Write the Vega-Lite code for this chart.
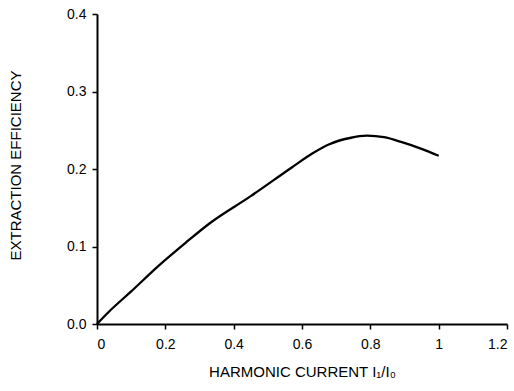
{
  "$schema": "https://vega.github.io/schema/vega-lite/v6.json",
  "width": 410,
  "height": 310,
  "autosize": {"type": "none"},
  "padding": {"left": 97, "top": 14, "right": 7, "bottom": 67},
  "background": "white",
  "config": {
    "view": {"stroke": null},
    "axis": {
      "grid": false,
      "domainColor": "black",
      "domainWidth": 2,
      "tickColor": "black",
      "tickWidth": 1.5,
      "tickSize": 5,
      "labelFont": "Liberation Sans",
      "labelFontSize": 14,
      "labelColor": "black",
      "titleFont": "Liberation Sans",
      "titleFontSize": 15,
      "titleFontWeight": "normal",
      "titleColor": "black"
    }
  },
  "data": {
    "values": [
      {"x": 0, "y": 0},
      {"x": 0.04, "y": 0.018},
      {"x": 0.1, "y": 0.042},
      {"x": 0.18, "y": 0.075},
      {"x": 0.26, "y": 0.105},
      {"x": 0.33, "y": 0.13},
      {"x": 0.45, "y": 0.165},
      {"x": 0.57, "y": 0.202},
      {"x": 0.63, "y": 0.22},
      {"x": 0.68, "y": 0.232},
      {"x": 0.74, "y": 0.240},
      {"x": 0.79, "y": 0.243},
      {"x": 0.84, "y": 0.241},
      {"x": 0.89, "y": 0.235},
      {"x": 0.95, "y": 0.226},
      {"x": 1.0, "y": 0.217}
    ]
  },
  "mark": {"type": "line", "color": "black", "strokeWidth": 2.3, "interpolate": "monotone"},
  "encoding": {
    "x": {
      "field": "x",
      "type": "quantitative",
      "scale": {"domain": [0, 1.2], "nice": false},
      "axis": {
        "values": [0, 0.2, 0.4, 0.6, 0.8, 1, 1.2],
        "format": "~g",
        "labelPadding": 8,
        "title": "HARMONIC CURRENT   I₁/I₀",
        "titlePadding": 13
      }
    },
    "y": {
      "field": "y",
      "type": "quantitative",
      "scale": {"domain": [0, 0.4], "nice": false},
      "axis": {
        "values": [0, 0.1, 0.2, 0.3, 0.4],
        "format": ".1f",
        "labelPadding": 6,
        "title": "EXTRACTION EFFICIENCY",
        "titleBaseline": "middle",
        "titleX": -82,
        "titleY": 151
      }
    }
  }
}
